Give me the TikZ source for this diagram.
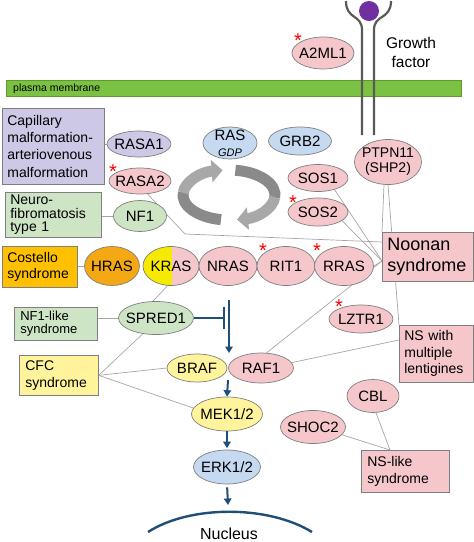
\documentclass[tikz,border=0pt]{standalone}
\usepackage{fontspec}
\setmainfont{Liberation Sans}
\usetikzlibrary{shapes.geometric, arrows.meta, backgrounds}
\definecolor{pinkc}{HTML}{F5C7CB}
\definecolor{lavc}{HTML}{CCC8E6}
\definecolor{greenc}{HTML}{CDE5C4}
\definecolor{orangebox}{HTML}{FFC000}
\definecolor{hrasc}{HTML}{F4A814}
\definecolor{yellowc}{HTML}{FFF49C}
\definecolor{krasy}{HTML}{F6EA00}
\definecolor{bluec}{HTML}{C5D9F1}
\definecolor{membc}{HTML}{7CC242}
\definecolor{membd}{HTML}{5E9A30}
\definecolor{darkblue}{HTML}{1F4E79}
\definecolor{lineg}{HTML}{A6A6A6}
\definecolor{bord}{HTML}{7F7F7F}
\definecolor{ringl}{HTML}{A8A8A8}
\definecolor{ringd}{HTML}{8A8A8A}
\definecolor{recc}{HTML}{595959}
\definecolor{purp}{HTML}{7030A0}
\newcommand\mkel[6]{%
  \node[elps, fill=#5, minimum width=#3pt, minimum height=#4pt] (#1) at (#2) {};
  \node[eltxt] (#1t) at (#1) {#6};}
\newcommand\tightstar{\raisebox{-0.43em}[0.3em][0pt]{*}}
\begin{document}
\begin{tikzpicture}[x=1pt,y=-1pt,
  elps/.style={ellipse, draw=bord, line width=0.7pt, inner sep=0pt},
  eltxt/.style={inner sep=0pt, align=center, font=\fontsize{15}{17}\selectfont},
  box/.style={rectangle, draw=bord, line width=0.7pt, inner xsep=5pt, inner ysep=0pt,
    anchor=north west, align=left},
  gl/.style={draw=lineg, line width=0.7pt},
  bl/.style={draw=darkblue, line width=2pt},
  blarr/.style={draw=darkblue, fill=darkblue, line width=2pt, -{Triangle[width=7.5pt,length=6.5pt]}},
  stars/.style={text=red, inner sep=0pt, font=\fontsize{20}{20}\selectfont},
  ring/.style={line width=11pt}
]
\useasboundingbox (0,0) rectangle (474,542);

% plasma membrane
\node[draw=membd, fill=membc, line width=0.6pt, minimum width=455pt, minimum height=16pt,
  inner sep=0pt, anchor=north west] (membrane) at (6,80) {};
\node[anchor=west, inner sep=0pt, font=\fontsize{10.5}{12}\selectfont] (membt) at (13,88.5) {plasma membrane};

% receptor
\draw[draw=recc, line width=2.2pt] (346,1) .. controls (346,20) and (362,14) .. (362,30) -- (362,135);
\draw[draw=recc, line width=2.2pt] (391,1) .. controls (391,20) and (374,14) .. (374,30) -- (374,135);
\fill[purp] (369,11) circle (10);
\node[align=center, inner sep=0pt, font=\fontsize{15.5}{19}\selectfont] (gf) at (411,52) {Growth\\factor};

% rotating arrows
\draw[ring, draw=ringd] (229,195) ++(100:46 and 25) arc[start angle=100, end angle=187, x radius=46, y radius=25];
\draw[ring, draw=ringl, -{Triangle[width=22pt,length=11pt]}] (229,195) ++(185:46 and 25) arc[start angle=185, end angle=262, x radius=46, y radius=25];
\draw[ring, draw=ringd] (229,195) ++(278:46 and 25) arc[start angle=278, end angle=367, x radius=46, y radius=25];
\draw[ring, draw=ringl, -{Triangle[width=22pt,length=11pt]}] (229,195) ++(365:46 and 25) arc[start angle=365, end angle=440, x radius=46, y radius=25];

% boxes
\node[box, fill=lavc, text width=92pt, minimum width=102pt, minimum height=76pt,
  font=\fontsize{14}{17.2}\selectfont] (cap) at (2,108)
  {Capillary\\malformation-\\arteriovenous\\malformation};
\node[box, fill=greenc, text width=86pt, minimum width=96pt, minimum height=45pt,
  font=\fontsize{14}{13.5}\selectfont] (nf1box) at (5,192) {Neuro-\\fibromatosis\\type 1};
\node[box, fill=orangebox, text width=65pt, minimum width=75pt, minimum height=41pt,
  font=\fontsize{14}{16}\selectfont] (costello) at (2,246) {Costello\\syndrome};
\node[box, fill=greenc, text width=71pt, inner xsep=6pt, minimum width=83pt, minimum height=33pt,
  font=\fontsize{13}{13.5}\selectfont] (nf1like) at (14,307) {NF1-like\\syndrome};
\node[box, fill=yellowc, text width=67pt, inner xsep=6pt, minimum width=79pt, minimum height=40pt,
  font=\fontsize{14}{16.5}\selectfont] (cfc) at (19,355) {CFC\\syndrome};
\node[box, fill=pinkc, text width=81pt, minimum width=91pt, minimum height=49pt,
  font=\fontsize{18}{21.5}\selectfont] (ns) at (382,232) {Noonan\\syndrome};
\node[box, fill=pinkc, text width=64pt, minimum width=74pt, minimum height=57pt,
  font=\fontsize{14}{16.5}\selectfont] (nsml) at (399,325) {NS with\\multiple\\lentigines};
\node[box, fill=pinkc, text width=76pt, inner xsep=6pt, minimum width=88pt, minimum height=42pt,
  font=\fontsize{14}{16.5}\selectfont] (nslike) at (361,450) {NS-like\\syndrome};

% ellipses
\mkel{a2ml1}{323,53}{62}{32}{pinkc}{A2ML1}
\mkel{rasa1}{139,144}{64}{26}{lavc}{RASA1}
\node[elps, fill=bluec, minimum width=54pt, minimum height=32pt] (ras) at (230,143) {};
\node[eltxt] (rast) at (230,143.5) {RAS\\[-1pt]{\fontsize{11}{12}\selectfont\itshape GDP}};
\mkel{grb2}{300,141}{63}{28}{bluec}{GRB2}
\node[elps, fill=pinkc, minimum width=67pt, minimum height=45pt] (ptpn) at (388,162) {};
\node[eltxt, font=\fontsize{14}{15}\selectfont] (ptpnt) at (388,162) {PTPN11\\(SHP2)};
\mkel{rasa2}{140,181}{62}{26}{pinkc}{RASA2}
\mkel{sos1}{318,178}{60}{27}{pinkc}{SOS1}
\mkel{sos2}{318,212}{60}{28}{pinkc}{SOS2}
\mkel{nf1}{140,216}{53}{31}{greenc}{NF1}
\mkel{hras}{112,266}{55}{39}{hrasc}{HRAS}
\node[elps, fill=pinkc, minimum width=56pt, minimum height=39pt,
  path picture={\fill[krasy] (path picture bounding box.south west) rectangle ([xshift=1pt]path picture bounding box.north);}]
  (kras) at (171,266) {};
\node[eltxt] (krast) at (kras) {KRAS};
\mkel{nras}{228,266}{58}{39}{pinkc}{NRAS}
\mkel{rit1}{286,266}{58}{39}{pinkc}{RIT1}
\mkel{rras}{344,266}{59}{39}{pinkc}{RRAS}
\mkel{spred1}{156,318}{75}{33}{greenc}{SPRED1}
\mkel{lztr1}{361,319}{64}{28}{pinkc}{LZTR1}
\mkel{braf}{197,368}{60}{28}{yellowc}{BRAF}
\mkel{raf1}{261,368}{65}{30}{pinkc}{RAF1}
\mkel{mek}{227,414}{71}{34}{yellowc}{MEK1/2}
\mkel{erk}{227,467}{67}{34}{bluec}{ERK1/2}
\mkel{cbl}{373,396}{52}{33}{pinkc}{CBL}
\mkel{shoc2}{313,427}{65}{33}{pinkc}{SHOC2}

% stars
\node[stars] (st1) at (298,36) {\tightstar};
\node[stars] (st2) at (113,167) {\tightstar};
\node[stars] (st3) at (293,198) {\tightstar};
\node[stars] (st4) at (263,246) {\tightstar};
\node[stars] (st5) at (317,246) {\tightstar};
\node[stars] (st6) at (339,302) {\tightstar};

% gray connectors
\begin{pgfonlayer}{background}
\coordinate (conv) at ([yshift=-29pt]ns.north west);
\coordinate (rbend) at (185,234);
\draw[gl] (cap.east |- rasa1) -- (rasa1.west);
\draw[gl] (nf1box.east |- nf1) -- (nf1.west);
\draw[gl] (costello.east |- hras) -- (hras.west);
\draw[gl] (nf1like.east |- spred1) -- (spred1.west);
\draw[gl] (kras.260) -- (spred1.100);
\draw[gl] (cfc.east) -- (spred1.230);
\draw[gl] (cfc.east) -- (braf.west);
\draw[gl] (cfc.east) -- (mek.170);
\draw[gl] (rasa2.-60) -- (rbend) -- ([yshift=-10pt]ns.north west);
\draw[gl] (sos1.-35) -- (conv);
\draw[gl] (sos2.-20) -- (conv);
\draw[gl] (rras.east) -- (conv);
\draw[gl] (raf1.70) -- (conv);
\draw[gl] (raf1.10) -- ([yshift=-15pt]nsml.north west);
\draw[gl] (ptpn.-100) -- (ns.north west);
\draw[gl] (ptpn.-90) -- (nsml.north west);
\draw[gl] (cbl.-80) -- ([xshift=29pt]nslike.north west);
\draw[gl] (shoc2.-15) -- ([xshift=29pt]nslike.north west);
\end{pgfonlayer}

% blue signalling arrows
\coordinate (tbar) at (224,318);
\coordinate (tbtop) at (224,307);
\coordinate (tbbot) at (224,329);
\draw[bl] (spred1.east) -- (tbar);
\draw[bl] (tbtop) -- (tbbot);
\coordinate (vtop) at (229,300);
\coordinate (vbot) at (229,353);
\draw[blarr] (vtop) -- (vbot);
\coordinate (bj) at (228,380);
\draw[blarr] (bj) -- (mek.north);
\draw[blarr, shorten >=1.5pt] (mek.south) -- (erk.north);
\coordinate (nuctop) at (228,505);
\draw[blarr, shorten <=3pt] (erk.south) -- (nuctop);

% nucleus
\coordinate (nucl) at (148,532);
\coordinate (nucr) at (312,532);
\draw[draw=darkblue, line width=2.4pt] (nucl) .. controls (190,505) and (268,505) .. (nucr);
\node[inner sep=0pt, font=\fontsize{16}{18}\selectfont] (nuct) at (229,533.5) {Nucleus};
\end{tikzpicture}
\end{document}
